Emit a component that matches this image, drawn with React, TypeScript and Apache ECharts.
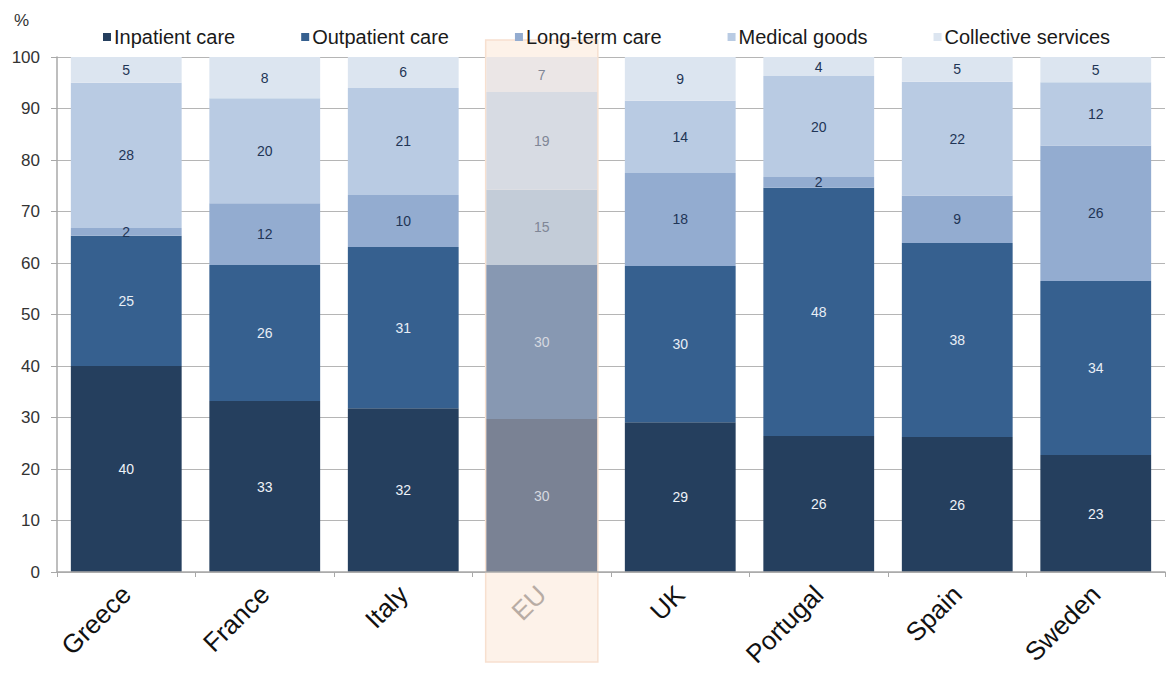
import React, { useEffect, useRef } from "react";
import * as echarts from "echarts";

const countries = ["Greece", "France", "Italy", "EU", "UK", "Portugal", "Spain", "Sweden"];
const seriesNames = ["Inpatient care", "Outpatient care", "Long-term care", "Medical goods", "Collective services"];
const inpatient = [40, 33.2, 31.8, 29.7, 29.1, 26.4, 26.2, 22.7];
const outpatient = [25.3, 26.4, 31.3, 29.9, 30.3, 48.2, 37.7, 33.8];
const longTerm = [1.5, 12.0, 10.1, 14.6, 18.1, 2.1, 9.2, 26.3];
const medicalGoods = [28.2, 20.4, 20.8, 19.0, 14.0, 19.6, 22.1, 12.3];
const collective = [5.0, 8.0, 6.0, 6.8, 8.5, 3.7, 4.8, 4.9];
const allValues = [inpatient, outpatient, longTerm, medicalGoods, collective];

const colors = ["#253f5e", "#36608f", "#93acd0", "#b9cbe3", "#dce5f0"];
const euColors = ["#7a8294", "#8798b2", "#c3ccd8", "#d7dbe3", "#ebe6e6"];
const labelColors = ["#eef2f8", "#e8eef6", "#1f3556", "#1f3556", "#1f3556"];
const euLabelColors = ["#d6d9e0", "#d6d9e0", "#7f8696", "#7f8696", "#7f8696"];
const highlightCategory = "EU";

export default function App() {
  const ref = useRef<HTMLDivElement>(null);

  useEffect(() => {
    document.body.style.margin = "0";
    if (!ref.current) return;
    const chart = echarts.init(ref.current, undefined, { renderer: "svg" });
    const euIdx = countries.indexOf(highlightCategory);

    const series: any[] = allValues.map((vals, si) => ({
      name: seriesNames[si],
      type: "bar",
      stack: "total",
      barCategoryGap: "20%",
      itemStyle: { color: colors[si] },
      label: {
        show: true,
        position: "inside",
        fontFamily: "Liberation Sans Narrow, Liberation Sans, sans-serif",
        fontSize: 14,
        color: labelColors[si],
        formatter: (p: any) => String(Math.round(p.value)),
      },
      data: vals.map((v, ci) =>
        ci === euIdx
          ? { value: v, itemStyle: { color: euColors[si] }, label: { color: euLabelColors[si] } }
          : v
      ),
      z: 3,
    }));

    series.push({
      type: "custom",
      name: "highlight",
      silent: true,
      clip: false,
      z: 1,
      data: [[euIdx, 100]],
      encode: { x: 0, y: 1 },
      renderItem: (params: any, api: any) => {
        const top = api.coord([api.value(0), api.value(1)]);
        const bottom = api.coord([api.value(0), 0]);
        const w = api.size([1, 0])[0] * 0.81;
        return {
          type: "rect",
          shape: { x: top[0] - w / 2, y: top[1] - 17, width: w, height: bottom[1] - top[1] + 107 },
          style: { fill: "#fdf2e9", stroke: "#f7e0cf", lineWidth: 1.5 },
        };
      },
    });

    chart.setOption({
      animation: false,
      color: colors,
      textStyle: { fontFamily: "Liberation Sans, Arial, sans-serif" },
      legend: {
        top: 22,
        left: 98,
        itemGap: 66,
        itemWidth: 8,
        itemHeight: 8,
        icon: "rect",
        textStyle: {
          fontFamily: "Liberation Sans Narrow, Liberation Sans, sans-serif",
          fontSize: 20,
          color: "#1a1a1a",
          padding: [0, 0, 0, -2],
        },
        data: seriesNames,
      },
      grid: { left: 57, right: 8, top: 57, bottom: 116, containLabel: false },
      xAxis: {
        type: "category",
        z: 5,
        data: countries.map((c) =>
          c === highlightCategory ? { value: c, textStyle: { color: "#b8aca4" } } : c
        ),
        axisLine: { lineStyle: { color: "#a8a8a8", width: 1.5 } },
        axisTick: { show: true, alignWithLabel: false, length: 5, lineStyle: { color: "#a8a8a8" } },
        axisLabel: {
          rotate: 45,
          fontSize: 26,
          color: "#111",
          margin: 18,
          fontFamily: "Liberation Sans, Arial, sans-serif",
        },
      },
      yAxis: {
        type: "value",
        min: 0,
        max: 100,
        interval: 10,
        axisLine: { show: true, lineStyle: { color: "#a8a8a8", width: 1.5 } },
        axisTick: { show: true, length: 6, lineStyle: { color: "#a8a8a8" } },
        axisLabel: { fontSize: 17, color: "#333", margin: 17 },
        splitLine: { lineStyle: { color: "#b5b5b5", width: 1.2 } },
      },
      graphic: [
        {
          type: "text",
          left: 14,
          top: 12,
          style: { text: "%", fontSize: 17, fill: "#333", fontFamily: "Liberation Sans, Arial, sans-serif" },
        },
      ],
      series,
    });

    return () => chart.dispose();
  }, []);

  return <div ref={ref} style={{ width: 1173, height: 688 }} />;
}
